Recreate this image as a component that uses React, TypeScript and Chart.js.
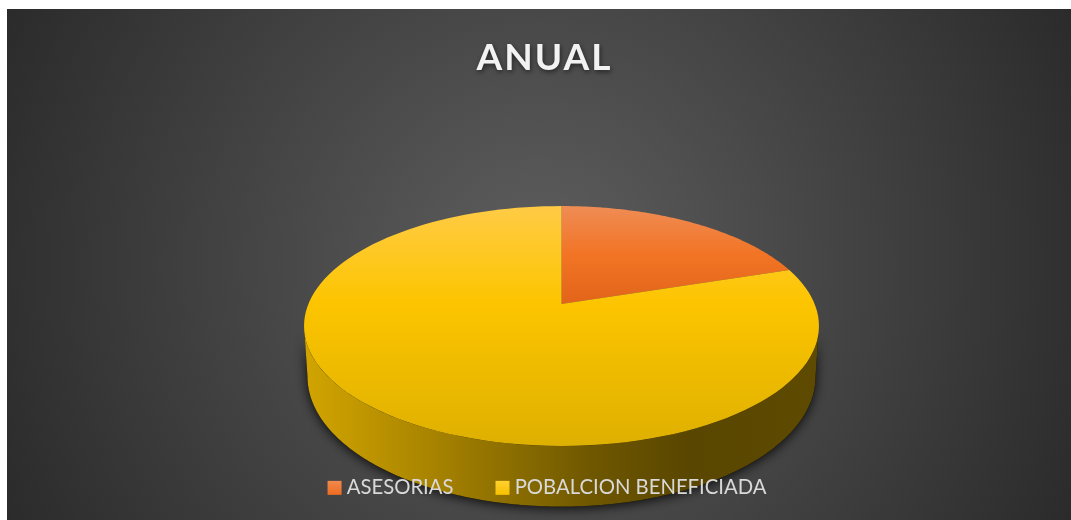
import React, { useEffect, useRef } from "react";
import { Chart, registerables } from "chart.js";

Chart.register(...registerables);

const categories = ["ASESORIAS", "POBALCION BENEFICIADA"];
const values = [20, 80];
const titleText = "ANUAL";
const baseColors = ["#F1762A", "#FFC800"];

const W = 1080;
const H = 511;
// perspective of the tilted disc (canvas pixels)
const CX = 554.5;
const APEX_Y = 295;
const K = 253.1;
const YK = 115.9;
const C = -0.1833;
// lower rim of the disc
const RIM_RX = 254;
const RIM_RY = 130;
const RIM_CY = 367.5;

function project(theta: number) {
  const s = Math.sin(theta);
  const d = 1 + C * s;
  return { x: CX + (K * Math.cos(theta)) / d, y: APEX_Y + (YK * s) / d };
}
function rim(theta: number) {
  return { x: CX + RIM_RX * Math.cos(theta), y: RIM_CY + RIM_RY * Math.sin(theta) };
}

function tracePath(ctx: CanvasRenderingContext2D, fn: (t: number) => { x: number; y: number }, from: number, to: number, move = false) {
  const steps = Math.max(8, Math.ceil(Math.abs(to - from) * 60));
  for (let i = 0; i <= steps; i++) {
    const p = fn(from + ((to - from) * i) / steps);
    if (i === 0 && move) ctx.moveTo(p.x, p.y);
    else ctx.lineTo(p.x, p.y);
  }
}

const faceStops: Record<string, [number, string][]> = {
  "#F1762A": [[0, "#EF8C55"], [0.5, "#F27424"], [1, "#E2641A"]],
  "#FFC800": [[0, "#FFCB45"], [0.4, "#FDC500"], [1, "#DEB000"]],
};
const legendStops: Record<string, [number, string][]> = {
  "#F1762A": [[0, "#F08A50"], [1, "#EE6C20"]],
  "#FFC800": [[0, "#FFD030"], [1, "#F8C000"]],
};

function wallGradient(ctx: CanvasRenderingContext2D, hex: string) {
  const n = parseInt(hex.slice(1), 16);
  const shade = (f: number) => `rgb(${((n >> 16) & 255) * f},${((n >> 8) & 255) * f},${(n & 255) * f})`;
  const g = ctx.createLinearGradient(CX - 257, 0, CX + 257, 0);
  g.addColorStop(0, shade(0.82));
  g.addColorStop(0.1, shade(0.76));
  g.addColorStop(0.3, shade(0.62));
  g.addColorStop(0.55, shade(0.44));
  g.addColorStop(0.75, shade(0.35));
  g.addColorStop(1, shade(0.37));
  return g;
}

const pie3d = {
  id: "pie3d",
  beforeLayout(chart: any) {
    const title = chart.titleBlock;
    if (title && !title.__wrapped) {
      title.__wrapped = true;
      const draw = title.draw.bind(title);
      title.draw = () => {
        const ctx = chart.ctx;
        ctx.save();
        ctx.translate(-2.5, 0);
        ctx.letterSpacing = "2px";
        ctx.shadowColor = "rgba(0,0,0,0.55)";
        ctx.shadowBlur = 5;
        ctx.shadowOffsetY = 2;
        ctx.shadowOffsetX = 1;
        draw();
        ctx.restore();
      };
    }
  },
  beforeDraw(chart: any) {
    const ctx: CanvasRenderingContext2D = chart.ctx;
    const bg = ctx.createRadialGradient(532, 255, 0, 532, 255, 600);
    bg.addColorStop(0, "#5E5E5E");
    bg.addColorStop(1, "#2A2A2A");
    ctx.fillStyle = bg;
    ctx.fillRect(0, 0, W, H);

    const arcs = chart.getDatasetMeta(0).data as any[];
    const colors = chart.data.datasets[0].backgroundColor as string[];

    const wallOutline = () => {
      ctx.beginPath();
      tracePath(ctx, project, 0.184, Math.PI - 0.184, true);
      tracePath(ctx, rim, Math.PI, 0);
      ctx.closePath();
    };

    // drop shadow of the lower rim
    ctx.save();
    ctx.shadowColor = "rgba(0,0,0,0.85)";
    ctx.shadowBlur = 12;
    ctx.shadowOffsetY = 2;
    ctx.fillStyle = "#000";
    wallOutline();
    ctx.fill();
    ctx.restore();

    // side wall takes the colour of the slice at the front
    const front = Math.PI / 2;
    const idx = arcs.findIndex((a) => front >= a.startAngle && front <= a.endAngle);
    ctx.fillStyle = wallGradient(ctx, colors[idx < 0 ? colors.length - 1 : idx]);
    wallOutline();
    ctx.fill();

    // top face
    arcs.forEach((arc, i) => {
      const pts: { x: number; y: number }[] = [];
      for (let j = 0; j <= 120; j++) pts.push(project(arc.startAngle + ((arc.endAngle - arc.startAngle) * j) / 120));
      pts.push({ x: CX, y: APEX_Y });
      const yTop = Math.min(...pts.map((p) => p.y));
      const yBot = Math.max(...pts.map((p) => p.y));
      const g = ctx.createLinearGradient(0, yTop, 0, yBot);
      (faceStops[colors[i]] || [[0, colors[i]], [1, colors[i]]]).forEach(([o, c]: any) => g.addColorStop(o, c));
      ctx.fillStyle = g;
      ctx.beginPath();
      pts.forEach((p, j) => (j === 0 ? ctx.moveTo(p.x, p.y) : ctx.lineTo(p.x, p.y)));
      ctx.closePath();
      ctx.fill();
    });
  },
  beforeDatasetsDraw(chart: any) {
    // legend squares, drawn from the legend's own hit boxes
    const ctx: CanvasRenderingContext2D = chart.ctx;
    const colors = chart.data.datasets[0].backgroundColor as string[];
    (chart.legend.legendHitBoxes as any[]).forEach((b, i) => {
      const size = 14;
      const top = b.top + b.height / 2 - size / 2;
      const g = ctx.createLinearGradient(0, top, 0, top + size);
      legendStops[colors[i]].forEach(([o, c]) => g.addColorStop(o, c));
      ctx.fillStyle = g;
      ctx.fillRect(b.left, top, size, size);
    });
    return false;
  },
};

export default function App() {
  const ref = useRef<HTMLCanvasElement>(null);
  useEffect(() => {
    const chart = new Chart(ref.current as HTMLCanvasElement, {
      type: "pie",
      data: {
        labels: categories,
        datasets: [{ data: values, backgroundColor: baseColors, borderWidth: 0 }],
      },
      plugins: [pie3d as any],
      options: {
        responsive: false,
        animation: false,
        layout: { padding: { top: 0, bottom: 12, left: 0, right: 0 } },
        plugins: {
          tooltip: { enabled: false },
          title: {
            display: true,
            text: titleText,
            color: "#F2F2F2",
            font: { family: "Lato", size: 37, weight: "bold" },
            padding: { top: 27, bottom: 20 },
          },
          legend: {
            position: "bottom",
            labels: {
              color: "#D9D9D9",
              font: { family: "Lato", size: 20.3 },
              boxWidth: 9,
              boxHeight: 14,
              padding: 42,
              generateLabels(chart: any) {
                return chart.data.labels.map((text: string, index: number) => ({
                  text,
                  index,
                  fillStyle: "rgba(0,0,0,0)",
                  strokeStyle: "rgba(0,0,0,0)",
                  lineWidth: 0,
                  fontColor: "#D9D9D9",
                }));
              },
            },
          },
        },
      },
    } as any);
    return () => chart.destroy();
  }, []);
  return (
    <div style={{ position: "absolute", left: 7, top: 9, width: 1064, height: 511, overflow: "hidden" }}>
      <canvas ref={ref} width={W} height={H} style={{ display: "block" }} />
    </div>
  );
}
